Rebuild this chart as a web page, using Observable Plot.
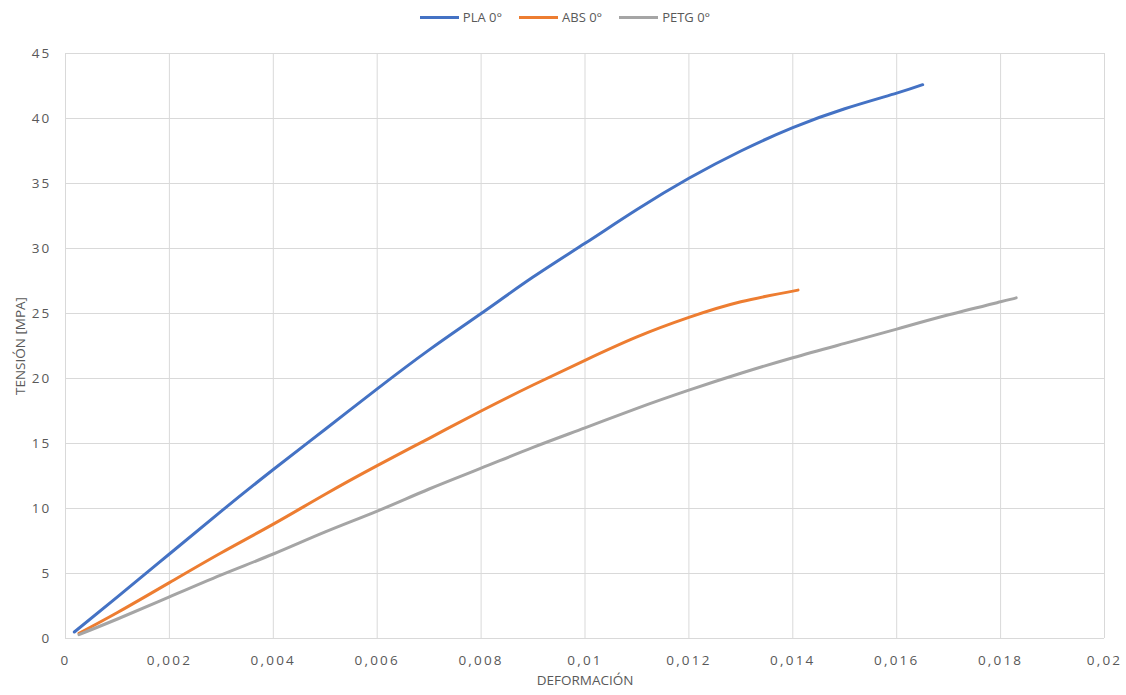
<!DOCTYPE html>
<html>
<head>
<meta charset="utf-8">
<script src="https://cdn.jsdelivr.net/npm/d3@7"></script>
<script src="https://cdn.jsdelivr.net/npm/@observablehq/plot@0.6"></script>
<style>
  body { margin: 0; background: #fff; font-family: "Open Sans", "Liberation Sans", sans-serif; }
  #legend { height: 34px; display: flex; justify-content: center; align-items: center; gap: 17px; font-size: 13px; color: #595959; padding-left: 4px; }
  .item { display: flex; align-items: center; gap: 4px; }
  .sw { width: 39px; height: 3px; display: inline-block; }
</style>
</head>
<body>
<div id="legend"></div>
<div id="chart"></div>
<script>
const seriesNames = ["PLA 0°", "ABS 0°", "PETG 0°"];
const seriesColors = ["#4472C4", "#ED7D31", "#A5A5A5"];

const plaX = [0.00017, 0.001, 0.002, 0.003, 0.004, 0.005, 0.006, 0.007, 0.008, 0.009, 0.010, 0.011, 0.012, 0.013, 0.014, 0.015, 0.016, 0.0165];
const plaY = [0.5, 3.2, 6.5, 9.8, 13.0, 16.1, 19.2, 22.2, 25.0, 27.8, 30.4, 33.0, 35.4, 37.5, 39.3, 40.75, 41.95, 42.6];

const absX = [0.00026, 0.001, 0.002, 0.003, 0.004, 0.005, 0.006, 0.007, 0.008, 0.009, 0.010, 0.011, 0.012, 0.013, 0.0141];
const absY = [0.4, 2.0, 4.3, 6.6, 8.8, 11.1, 13.3, 15.4, 17.5, 19.5, 21.4, 23.2, 24.7, 25.9, 26.8];

const petgX = [0.00026, 0.001, 0.002, 0.003, 0.004, 0.005, 0.006, 0.007, 0.008, 0.009, 0.010, 0.011, 0.012, 0.013, 0.014, 0.015, 0.016, 0.017, 0.018, 0.0183];
const petgY = [0.3, 1.5, 3.2, 4.9, 6.5, 8.2, 9.8, 11.5, 13.1, 14.7, 16.2, 17.7, 19.1, 20.4, 21.6, 22.7, 23.8, 24.9, 25.9, 26.2];

const xTicks = [0, 0.002, 0.004, 0.006, 0.008, 0.01, 0.012, 0.014, 0.016, 0.018, 0.02];
const yTicks = [0, 5, 10, 15, 20, 25, 30, 35, 40, 45];

const rows = [];
[[plaX, plaY], [absX, absY], [petgX, petgY]].forEach(([xs, ys], i) => {
  xs.forEach((x, j) => rows.push({series: seriesNames[i], x, y: ys[j]}));
});

const legend = document.getElementById("legend");
seriesNames.forEach((n, i) => {
  const it = document.createElement("span");
  it.className = "item";
  it.innerHTML = `<span class="sw" style="background:${seriesColors[i]}"></span><span>${n}</span>`;
  legend.appendChild(it);
});

const fmt = d => String(d).replace(".", ",");

const chart = Plot.plot({
  width: 1126,
  height: 661,
  marginLeft: 65,
  marginRight: 22,
  marginTop: 19,
  marginBottom: 57,
  style: {fontFamily: "'Open Sans', 'Liberation Sans', sans-serif", fontSize: "12.5px", color: "#595959"},
  x: {domain: [0, 0.02]},
  y: {domain: [0, 45]},
  color: {domain: seriesNames, range: seriesColors},
  marks: [
    Plot.gridX(xTicks, {stroke: "#d9d9d9", strokeOpacity: 1}),
    Plot.gridY(yTicks, {stroke: "#d9d9d9", strokeOpacity: 1}),
    Plot.ruleY([0], {stroke: "#d9d9d9"}),
    Plot.axisX({ticks: xTicks, tickFormat: fmt, tickSize: 0, tickPadding: 17, fontSize: 13.5, label: "DEFORMACIÓN", labelAnchor: "center", labelArrow: "none", labelOffset: 46}),
    Plot.axisY({ticks: yTicks, tickFormat: fmt, tickSize: 0, tickPadding: 14, fontSize: 13.5, label: "TENSIÓN [MPA]", labelAnchor: "center", labelArrow: "none", labelOffset: 50}),
    Plot.line(rows, {x: "x", y: "y", z: "series", stroke: "series", strokeWidth: 3, curve: "natural"})
  ]
});
chart.querySelectorAll('[aria-label="x-axis tick label"] text, [aria-label="y-axis tick label"] text').forEach(t => t.setAttribute("letter-spacing", "2.2"));
document.getElementById("chart").appendChild(chart);
</script>
</body>
</html>
